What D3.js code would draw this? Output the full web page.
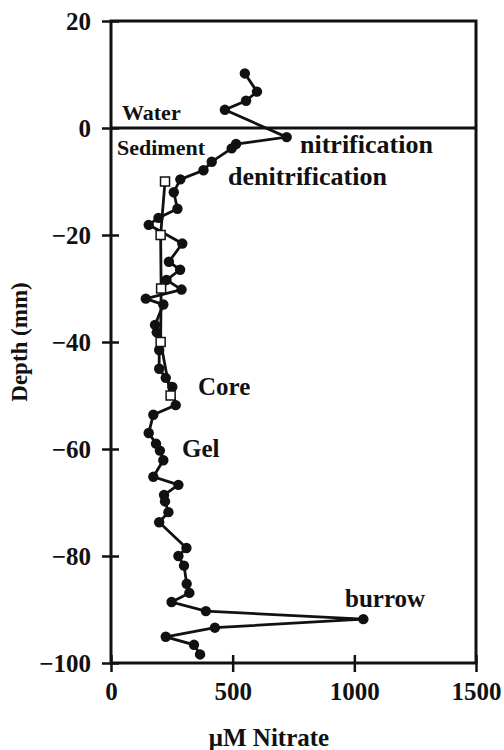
<!DOCTYPE html>
<meta charset='utf-8'>
<style>
	body { margin: 0; background: #fff; }
	svg text { font-family: 'Liberation Serif', 'Times New Roman', serif; font-weight: bold; fill: #111; }
</style>
<body>
	<div id='container'></div>
<script src='https://d3js.org/d3.v7.min.js'></script>
<script>
	// gel profile (filled dots): depth in mm, nitrate in uM
	const gelDepth = [10.2, 6.8, 5.1, 3.4, -1.7, -3.0, -3.8, -6.3, -7.9, -9.6,
		-12.0, -15.1, -16.8, -18.1, -21.6, -25.0, -26.5, -28.4, -30.2, -31.9,
		-33.0, -36.8, -38.2, -41.5, -45.0, -46.7, -48.4, -51.8, -53.6, -57.0,
		-59.0, -60.3, -62.1, -65.2, -66.7, -68.6, -69.8, -71.8, -73.7, -78.5,
		-80.0, -81.8, -85.2, -86.9, -88.6, -90.3, -91.8, -93.4, -95.1, -96.6, -98.4];
	const gelNitrate = [550, 600, 555, 468, 722, 514, 496, 414, 380, 285,
		258, 273, 195, 155, 293, 238, 284, 228, 290, 143,
		215, 181, 188, 198, 198, 225, 252, 266, 174, 155,
		185, 201, 215, 174, 277, 218, 222, 236, 198, 310,
		277, 300, 311, 322, 249, 390, 1037, 427, 225, 341, 366];

	// core profile (open squares)
	const coreDepth = [-10, -20, -30, -40, -50];
	const coreNitrate = [222, 204, 206, 204, 245];

	const xTicks = [0, 500, 1000, 1500];
	const yTicks = [20, 0, -20, -40, -60, -80, -100];

	const labels = [
		{ text: 'Water', x: 122, y: 120, size: 22 },
		{ text: 'Sediment', x: 117, y: 155, size: 22 },
		{ text: 'nitrification', x: 300, y: 153, size: 26 },
		{ text: 'denitrification', x: 228, y: 185, size: 26 },
		{ text: 'Core', x: 198, y: 395, size: 25 },
		{ text: 'Gel', x: 182, y: 457, size: 25 },
		{ text: 'burrow', x: 345, y: 607, size: 25 },
	];

	const W = 504, H = 750;
	const plotL = 111, plotR = 476, plotT = 21, plotB = 663;

	const x = d3.scaleLinear().domain([0, 1500]).range([plotL, plotR]);
	const y = d3.scaleLinear().domain([-100, 20]).range([plotB, plotT]);

	const svg = d3.select('#container').append('svg')
		.attr('width', W).attr('height', H);

	// axes with ticks crossing the frame
	const yAxis = svg.append('g')
		.attr('transform', `translate(${plotL},0)`)
		.call(d3.axisLeft(y).tickValues(yTicks).tickSize(9).tickPadding(11)
			.tickFormat(d3.format('d')));
	yAxis.selectAll('.tick line').attr('x1', 8);

	const xAxis = svg.append('g')
		.attr('transform', `translate(0,${plotB})`)
		.call(d3.axisBottom(x).tickValues(xTicks).tickSize(9).tickPadding(14)
			.tickFormat(d3.format('d')));
	xAxis.selectAll('.tick line').attr('y1', -8);

	svg.selectAll('.domain').remove();
	svg.selectAll('.tick line').attr('stroke', '#111').attr('stroke-width', 2.5);
	svg.selectAll('.tick text').attr('font-size', 25).attr('fill', '#111')
		.attr('font-family', "'Liberation Serif', serif").attr('font-weight', 'bold');
	xAxis.selectAll('.tick text').attr('dy', null).attr('y', 37);

	// frame
	const frame = svg.append('g').attr('stroke', '#111').attr('stroke-width', 3).attr('fill', 'none');
	frame.append('path')
		.attr('d', `M${x(0)},${y(20)}H${x(1500)}V${y(-100)}H${x(0)}Z`);
	frame.append('line')
		.attr('x1', x(0)).attr('x2', x(1500))
		.attr('y1', y(0)).attr('y2', y(0));

	const line = d3.line().x(d => x(d[1])).y(d => y(d[0]));

	const gel = gelDepth.map((d, i) => [d, gelNitrate[i]]);
	const core = coreDepth.map((d, i) => [d, coreNitrate[i]]);

	svg.append('path').datum(gel)
		.attr('d', line).attr('fill', 'none').attr('stroke', '#111').attr('stroke-width', 2.8);
	svg.append('g').selectAll('circle').data(gel).join('circle')
		.attr('cx', d => x(d[1])).attr('cy', d => y(d[0])).attr('r', 5.2).attr('fill', '#111');

	svg.append('path').datum(core)
		.attr('d', line).attr('fill', 'none').attr('stroke', '#111').attr('stroke-width', 2.8);
	svg.append('g').selectAll('rect').data(core).join('rect')
		.attr('x', d => x(d[1]) - 4.5).attr('y', d => y(d[0]) - 4.5)
		.attr('width', 9).attr('height', 9)
		.attr('fill', '#fff').attr('stroke', '#111').attr('stroke-width', 1.5);

	svg.append('g').selectAll('text').data(labels).join('text')
		.attr('x', d => d.x).attr('y', d => d.y).attr('font-size', d => d.size)
		.text(d => d.text);

	svg.append('text')
		.attr('x', 269).attr('y', 746).attr('text-anchor', 'middle').attr('font-size', 25)
		.text('μM Nitrate');
	svg.append('text')
		.attr('transform', `translate(27,${(plotT + plotB) / 2}) rotate(-90)`)
		.attr('text-anchor', 'middle').attr('font-size', 23)
		.text('Depth (mm)');
</script>
</body>
